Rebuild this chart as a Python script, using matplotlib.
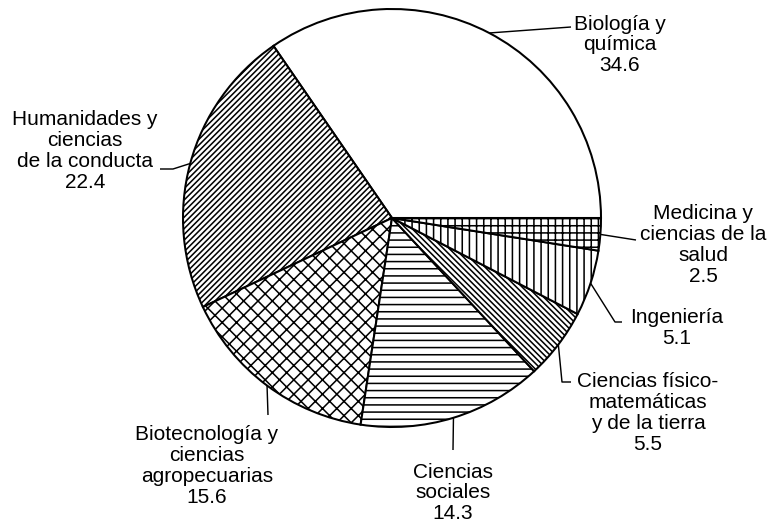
import numpy as np
import matplotlib
matplotlib.use("Agg")
import matplotlib.pyplot as plt

# data
labels = ["Biología y\nquímica",
          "Humanidades y\nciencias\nde la conducta",
          "Biotecnología y\nciencias\nagropecuarias",
          "Ciencias\nsociales",
          "Ciencias físico-\nmatemáticas\ny de la tierra",
          "Ingeniería",
          "Medicina y\nciencias de la\nsalud"]
values = [34.6, 22.4, 15.6, 14.3, 5.5, 5.1, 2.5]
hatches = ['', '/////', 'xx', '--', '\\\\\\\\\\', '||', '++']

# layout (pixel coords, y down)
center = (392, 218)
radius = 209
text_pos = [(620, 45), (85, 151), (207, 466), (453, 493),
            (648, 413), (677, 328), (703, 245)]
leader_pts = [[(571, 27)],
              [(173, 169), (160, 169)],
              [(268, 415)],
              [(453, 450)],
              [(562, 382), (571, 382)],
              [(615, 322), (622, 322)],
              [(636, 240)]]

DPI = 86
plt.rcParams['font.family'] = ['Liberation Sans', 'DejaVu Sans']
plt.rcParams['hatch.linewidth'] = 1.3

fig = plt.figure(figsize=(774 / DPI, 531 / DPI), dpi=DPI)
ax = fig.add_axes([0, 0, 1, 1])

wedges, _ = ax.pie(values, startangle=0, counterclock=False, center=center,
                   radius=radius, colors=['white'] * len(values),
                   wedgeprops=dict(edgecolor='black', linewidth=1.7))
for w, h in zip(wedges, hatches):
    w.set_hatch(h)

ax.set_xlim(0, 774)
ax.set_ylim(531, 0)
ax.set_aspect('equal')
ax.axis('off')

for w, lab, val, pos, pts in zip(wedges, labels, values, text_pos, leader_pts):
    a = np.deg2rad((w.theta1 + w.theta2) / 2)
    start = (center[0] + radius * np.cos(a), center[1] + radius * np.sin(a))
    xs = [start[0]] + [p[0] for p in pts]
    ys = [start[1]] + [p[1] for p in pts]
    ax.plot(xs, ys, color='black', lw=1.2, solid_capstyle='butt')
    ax.text(pos[0], pos[1], f"{lab}\n{val}", ha='center', va='center',
            fontsize=17.5, linespacing=1.12, color='black')

fig.savefig("out.png", dpi=DPI)
